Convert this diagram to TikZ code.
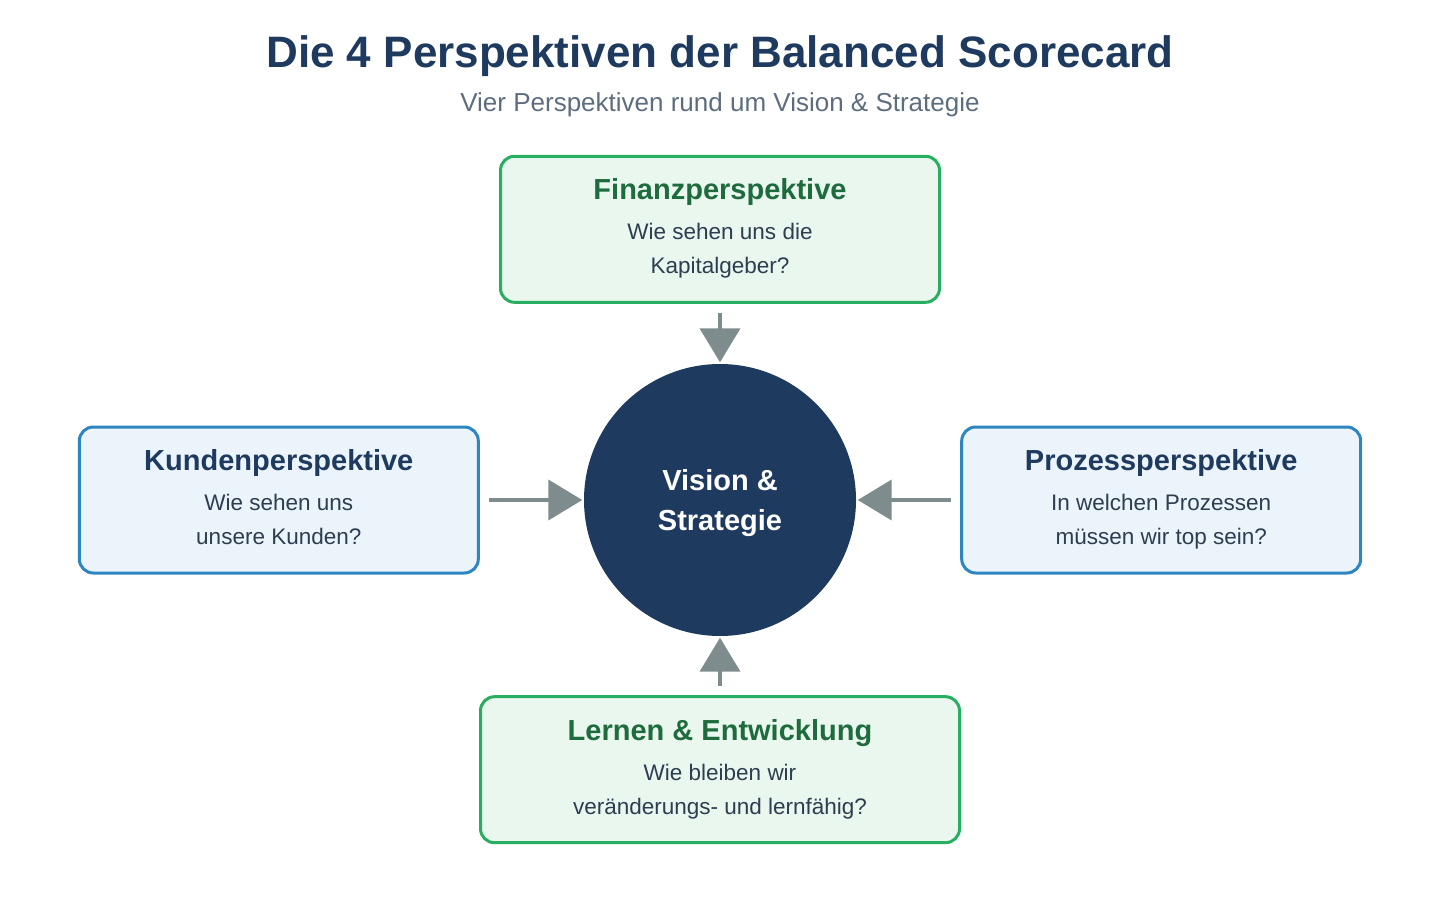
\documentclass[tikz,border=0pt]{standalone}
\usepackage{fontspec}
\setmainfont{Liberation Sans}
\usetikzlibrary{arrows.meta, positioning, calc}
\definecolor{TitleNavy}{HTML}{1F3A5F}
\definecolor{SubGray}{HTML}{5D6D7E}
\definecolor{BodyText}{HTML}{2C3E50}
\definecolor{GreenLine}{HTML}{27AE60}
\definecolor{GreenBg}{HTML}{E9F7EF}
\definecolor{GreenHead}{HTML}{1E6B3D}
\definecolor{BlueLine}{HTML}{2E86C1}
\definecolor{BlueBg}{HTML}{EBF3FB}
\definecolor{ArrowGray}{HTML}{7F8C8D}
\tikzset{
    persp/.style={draw, line width=3pt, rounded corners=14pt, minimum height=146pt},
    greenbox/.style={persp, draw=GreenLine, fill=GreenBg},
    bluebox/.style={persp, draw=BlueLine, fill=BlueBg, minimum width=399pt},
    headtxt/.style={anchor=base, inner sep=0pt, font=\fontsize{29}{34}\selectfont\bfseries},
    bodytxt/.style={anchor=base, inner sep=0pt, text=BodyText, font=\fontsize{22.5}{34}\selectfont},
    arr/.style={line width=4pt, draw=ArrowGray, -{Triangle[length=34pt, width=40pt]}, shorten <=9pt, shorten >=1.5pt}
}

\begin{document}
\begin{tikzpicture}[x=1pt, y=-1pt]
    \useasboundingbox (0,0) rectangle (1440,920);

    % Heading
    \node[anchor=base, text=TitleNavy, font=\fontsize{44}{50}\selectfont\bfseries] (title) at (720,68) {Die 4 Perspektiven der Balanced Scorecard};
    \node[anchor=base, text=SubGray, font=\fontsize{26}{30}\selectfont] (subtitle) at (720,112) {Vier Perspektiven rund um Vision \& Strategie};

    % Centre
    \node[circle, fill=TitleNavy, minimum size=272pt, inner sep=0pt, text=white, align=center,
          font=\fontsize{29}{40}\selectfont\bfseries] (vis) at (720,500) {\rule{0pt}{27pt}Vision \&\\Strategie};

    % Perspectives
    \node[greenbox, minimum width=439pt, above=60pt of vis] (fin) {};
    \node[bluebox, left=104pt of vis] (kund) {};
    \node[bluebox, right=104pt of vis] (proz) {};
    \node[greenbox, minimum width=479pt, below=59pt of vis] (lern) {};

    \node[headtxt, text=GreenHead] (finH) at ($(fin.north)+(0,-45pt)$) {Finanzperspektive};
    \node[bodytxt] (finB1) at ($(fin.north)+(0,-85pt)$) {Wie sehen uns die};
    \node[bodytxt] (finB2) at ($(fin.north)+(0,-119pt)$) {Kapitalgeber?};

    \node[headtxt, text=TitleNavy] (kundH) at ($(kund.north)+(0,-45pt)$) {Kundenperspektive};
    \node[bodytxt] (kundB1) at ($(kund.north)+(0,-85pt)$) {Wie sehen uns};
    \node[bodytxt] (kundB2) at ($(kund.north)+(0,-119pt)$) {unsere Kunden?};

    \node[headtxt, text=TitleNavy] (prozH) at ($(proz.north)+(0,-45pt)$) {Prozessperspektive};
    \node[bodytxt] (prozB1) at ($(proz.north)+(0,-85pt)$) {In welchen Prozessen};
    \node[bodytxt] (prozB2) at ($(proz.north)+(0,-119pt)$) {müssen wir top sein?};

    \node[headtxt, text=GreenHead] (lernH) at ($(lern.north)+(0,-45pt)$) {Lernen \& Entwicklung};
    \node[bodytxt] (lernB1) at ($(lern.north)+(0,-85pt)$) {Wie bleiben wir};
    \node[bodytxt] (lernB2) at ($(lern.north)+(0,-119pt)$) {veränderungs- und lernfähig?};

    % Arrows into the centre
    \draw[arr] (fin) -- (vis);
    \draw[arr] (kund) -- (vis);
    \draw[arr] (proz) -- (vis);
    \draw[arr] (lern) -- (vis);
\end{tikzpicture}
\end{document}
